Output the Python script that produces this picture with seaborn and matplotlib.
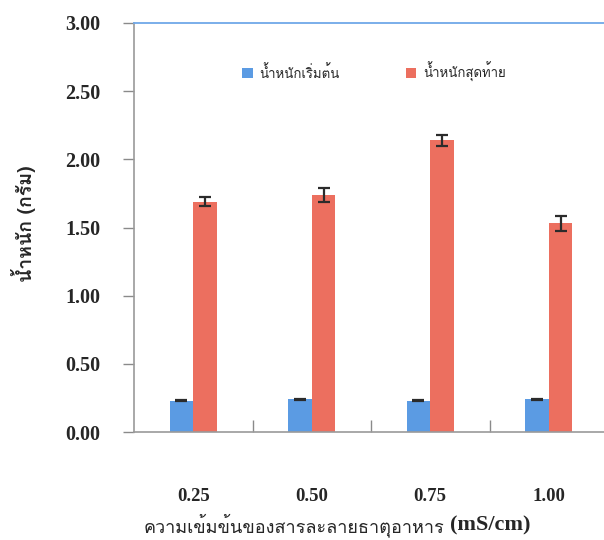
import matplotlib
matplotlib.use("Agg")
import matplotlib.pyplot as plt
import seaborn as sns
import pandas as pd
from matplotlib import font_manager
from matplotlib.ft2font import FT2Font
from matplotlib.ticker import FixedLocator

# Data: weight (g) at start and end for each nutrient solution concentration
concentrations = ["0.25", "0.50", "0.75", "1.00"]
series_names = ["น้ำหนักเริ่มต้น", "น้ำหนักสุดท้าย"]
initial_weight = [0.23, 0.24, 0.23, 0.24]
initial_err = [0.004, 0.004, 0.004, 0.003]
final_weight = [1.69, 1.74, 2.14, 1.53]
final_err = [0.035, 0.05, 0.04, 0.055]
y_ticks = [0.0, 0.5, 1.0, 1.5, 2.0, 2.5, 3.0]
x_title_thai = "ความเข้มข้นของสารละลายธาตุอาหาร"
x_title_unit = "(mS/cm)"
y_title = "น้ำหนัก (กรัม)"


def find_thai_family():
    """Return the name of an installed font family that covers Thai script."""
    for entry in font_manager.fontManager.ttflist:
        try:
            if 0x0E01 in FT2Font(entry.fname).get_charmap():
                return entry.name
        except Exception:
            continue
    return None


sns.set_theme(style="white")
thai = find_thai_family()
serif = "Liberation Serif"
families = [serif] + ([thai] if thai else []) + ["DejaVu Sans"]
thai_first = ([thai] if thai else []) + [serif, "DejaVu Sans"]
plt.rcParams["font.family"] = families

df = pd.DataFrame({
    "conc": concentrations * 2,
    "series": [series_names[0]] * 4 + [series_names[1]] * 4,
    "weight": initial_weight + final_weight,
    "err": initial_err + final_err,
})

colors = {series_names[0]: "#5b9be3", series_names[1]: "#ec6f5f"}
text_color = "#262626"

W, H = 604, 540
fig = plt.figure(figsize=(W / 100, H / 100), dpi=100)
ax = fig.add_axes([134 / W, 108 / H, 474 / W, 409 / H])

sns.barplot(data=df, x="conc", y="weight", hue="series", palette=colors,
            width=0.4, errorbar=None, saturation=1, linewidth=0, ax=ax, legend=True)

# Error bars at the centres of the drawn bars
for container, name in zip(ax.containers, series_names):
    sub = df[df["series"] == name]
    xs = [p.get_x() + p.get_width() / 2 for p in container.patches]
    ax.errorbar(xs, sub["weight"].values, yerr=sub["err"].values, fmt="none",
                ecolor="#2b2b2b", elinewidth=1.6, capsize=4, capthick=1.6, zorder=5)

ax.set_ylim(0, 3.0)
ax.set_xlim(-0.5, 3.5)
ax.set_yticks(y_ticks)
ax.set_yticklabels([f"{v:.2f}" for v in y_ticks])

# category labels centred, tick marks between categories
ax.tick_params(axis="x", which="major", length=0, pad=40, labelsize=13.5)
ax.xaxis.set_minor_locator(FixedLocator([0.5, 1.5, 2.5]))
ax.tick_params(axis="x", which="minor", direction="in", length=9, width=1,
               color="#8a8a8a", bottom=True)
ax.tick_params(axis="y", direction="out", length=8, width=1, color="#8a8a8a",
               pad=16, labelsize=14.5, left=True)
for lab in ax.get_xticklabels() + ax.get_yticklabels():
    lab.set_fontweight("bold")
    lab.set_color(text_color)

for side in ["left", "bottom"]:
    ax.spines[side].set_color("#9a9a9a")
    ax.spines[side].set_linewidth(1.2)
ax.spines["top"].set_color("#6fa8e8")
ax.spines["top"].set_linewidth(1.3)
ax.spines["right"].set_visible(False)

ax.set_xlabel("")
ax.set_ylabel("")
fig.text(444 / W, 1 - 525 / H, x_title_thai, fontsize=13, family=thai_first,
         color=text_color, ha="right", va="center")
fig.text(450 / W, 1 - 525 / H, x_title_unit, fontsize=16, fontweight="bold",
         family=[serif], color=text_color, ha="left", va="center")
fig.text(24 / W, 1 - 224 / H, y_title, fontsize=14, fontweight="bold",
         family=thai_first, color=text_color, ha="center", va="center", rotation=90)

leg = ax.legend(loc="center", bbox_to_anchor=((374 - 134) / 474, 1 - (72 - 23) / 409),
                ncol=2, frameon=False, handlelength=0.8, handleheight=0.8,
                columnspacing=5.0, handletextpad=0.5,
                prop={"family": thai_first, "size": 9.5})
for txt in leg.get_texts():
    txt.set_color(text_color)

fig.savefig("out.png", dpi=100)
